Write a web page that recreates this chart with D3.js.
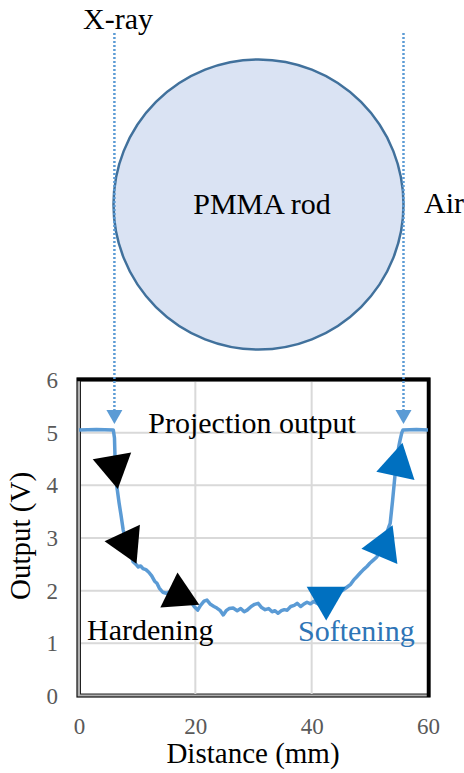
<!DOCTYPE html>
<html>
<head>
<meta charset="utf-8">
<script src="https://cdn.jsdelivr.net/npm/d3@7"></script>
<style>
  html, body { margin: 0; padding: 0; background: #fff; }
  svg { display: block; }
</style>
</head>
<body>
<svg id="chart" width="464" height="773"></svg>
<script>
// projection profile: [distance mm, output V]
var distance = [0, 3, 5.9, 6.1, 6.2, 6.4, 6.6, 6.9, 7.2, 7.6, 8.0, 8.6, 9.3, 9.8, 10.2, 10.6, 11.0, 11.5, 12.0, 12.5,
    13.0, 13.4, 13.8, 14.4, 15.0, 15.6, 16.2, 17.0, 17.8, 18.6, 19.2, 19.8, 20.4, 20.9, 21.5, 22.0, 22.6, 23.2, 23.7, 24.3,
    24.8, 25.3, 25.8, 26.5, 27.2, 27.8, 28.4, 28.9, 29.6, 30.2, 30.8, 31.4, 32.0, 32.6, 33.2, 33.7, 34.2, 34.8, 35.3, 35.8,
    36.4, 37.0, 37.5, 38.1, 38.6, 39.2, 39.8, 40.4, 40.9, 41.6, 42.3, 43.0, 43.7, 44.3, 44.8, 45.5, 46.1, 46.7, 47.2, 47.8,
    48.3, 48.9, 49.5, 50.0, 50.6, 51.2, 51.8, 52.4, 52.9, 53.3, 53.5, 53.9, 54.3, 54.7, 55.0, 55.2, 55.5, 55.7, 58, 60];
var output = [5.05, 5.06, 5.05, 4.9, 4.5, 4.05, 3.9, 3.66, 3.45, 3.15, 2.98, 2.8, 2.55, 2.5, 2.45, 2.47, 2.42, 2.40, 2.35, 2.28,
    2.18, 2.14, 2.05, 1.97, 1.95, 1.98, 1.96, 1.92, 1.88, 1.86, 1.80, 1.70, 1.63, 1.72, 1.80, 1.82, 1.74, 1.70, 1.67, 1.62,
    1.54, 1.62, 1.66, 1.67, 1.62, 1.66, 1.60, 1.63, 1.70, 1.74, 1.76, 1.68, 1.64, 1.66, 1.60, 1.62, 1.57, 1.62, 1.64, 1.63,
    1.70, 1.72, 1.76, 1.70, 1.74, 1.78, 1.75, 1.80, 1.76, 1.72, 1.78, 1.84, 1.88, 1.90, 1.98, 2.02, 2.07, 2.12, 2.20, 2.27,
    2.33, 2.40, 2.46, 2.52, 2.58, 2.64, 2.75, 2.90, 3.09, 3.22, 3.28, 3.70, 4.16, 4.54, 4.75, 4.86, 5.00, 5.05, 5.06, 5.05];

// triangle markers along the curve: [distance, output] and their turn in degrees
var hardeningMarks = [[6.0, 4.35], [8.25, 2.90], [17.2, 1.92]];
var hardeningTurn = [170, -85, -4];
var softeningMarks = [[42.5, 1.86], [52.4, 2.85], [54.8, 4.39]];
var softeningTurn = [180, 23, 12];

// where the X-ray beams graze the rod edge (mm)
var beamEdges = [6.0, 55.7];

var xTicks = [0, 20, 40, 60];
var yTicks = [0, 1, 2, 3, 4, 5, 6];

var serif = "'Liberation Serif', serif";
var svg = d3.select("#chart");
var lineBlue = "#5b9bd5";

var x = d3.scaleLinear().domain([0, 60]).range([79, 428]);
var y = d3.scaleLinear().domain([0, 6]).range([696, 380]);

function label(tx, ty, str, size) {
    return svg.append("text")
        .attr("x", tx).attr("y", ty)
        .style("font-family", serif)
        .style("font-size", size + "px")
        .text(str);
}

// --- rod sketch ---
svg.append("circle")
    .attr("cx", 258.5).attr("cy", 204.5).attr("r", 145)
    .attr("fill", "#dae3f3")
    .attr("stroke", "#41719c")
    .attr("stroke-width", 2.5);

label(262, 214, "PMMA rod", 30).attr("text-anchor", "middle");
label(83, 29, "X-ray", 30);
label(424, 213, "Air", 30);

// --- plot frame and grid ---
svg.append("rect")
    .attr("x", 77).attr("y", 378).attr("width", 353).attr("height", 319)
    .attr("fill", "#b0b0b0").attr("stroke", "#111").attr("stroke-width", 1.2);
svg.append("rect")
    .attr("x", 80.5).attr("y", 381).attr("width", 347).attr("height", 313)
    .attr("fill", "#fff").attr("stroke", "#222").attr("stroke-width", 1);

var grid = svg.append("g").attr("stroke", "#d9d9d9").attr("stroke-width", 2);
grid.selectAll("line.h").data(yTicks.filter(function (d) { return d > 0 && d < 6; }))
    .enter().append("line").attr("class", "h")
    .attr("x1", 81).attr("x2", 427)
    .attr("y1", function (d) { return y(d); })
    .attr("y2", function (d) { return y(d); });
grid.selectAll("line.v").data(xTicks.filter(function (d) { return d > 0 && d < 60; }))
    .enter().append("line").attr("class", "v")
    .attr("y1", 382).attr("y2", 694)
    .attr("x1", function (d) { return x(d); })
    .attr("x2", function (d) { return x(d); });

// heavy black top and right edges
svg.append("path")
    .attr("d", "M77,379.5 H428.5 V697")
    .attr("fill", "none").attr("stroke", "#000").attr("stroke-width", 3.5);

// --- axes ---
var xAxis = svg.append("g").attr("transform", "translate(0,696)")
    .call(d3.axisBottom(x).tickValues(xTicks).tickFormat(d3.format("d")).tickSize(0).tickPadding(22));
var yAxis = svg.append("g").attr("transform", "translate(79,0)")
    .call(d3.axisLeft(y).tickValues(yTicks).tickFormat(d3.format("d")).tickSize(0).tickPadding(21));
[xAxis, yAxis].forEach(function (ax) {
    ax.select(".domain").remove();
    ax.selectAll("text")
        .style("font-family", serif)
        .style("font-size", "23px")
        .attr("fill", "#595959");
});

label(253, 763, "Distance (mm)", 29).attr("text-anchor", "middle");
label(0, 0, "Output (V)", 29)
    .attr("transform", "translate(30,536) rotate(-90)")
    .attr("text-anchor", "middle");

// --- beam guides ---
beamEdges.forEach(function (d) {
    var bx = x(d) + 0.5;
    svg.append("line")
        .attr("x1", bx).attr("x2", bx).attr("y1", 33).attr("y2", 411)
        .attr("stroke", lineBlue).attr("stroke-width", 2.5)
        .attr("stroke-dasharray", "2,2");
    svg.append("path")
        .attr("d", "M" + (bx - 8) + ",410 L" + (bx + 8) + ",410 L" + bx + ",424 Z")
        .attr("fill", lineBlue);
});

// --- projection curve ---
var line = d3.line()
    .x(function (d, i) { return x(distance[i]); })
    .y(function (d) { return y(d); });
svg.append("path")
    .datum(output)
    .attr("d", line)
    .attr("fill", "none")
    .attr("stroke", lineBlue)
    .attr("stroke-width", 3.5)
    .attr("stroke-linejoin", "round");

label(252, 433, "Projection output", 30).attr("text-anchor", "middle");

// --- direction markers ---
var tri = d3.symbol().type(d3.symbolTriangle).size(660);
function drawMarks(points, turns, color) {
    svg.append("g").selectAll("path").data(points).enter().append("path")
        .attr("d", tri)
        .attr("fill", color)
        .attr("transform", function (d, i) {
            return "translate(" + x(d[0]) + "," + y(d[1]) + ") rotate(" + turns[i] + ")";
        });
}
drawMarks(hardeningMarks, hardeningTurn, "#000");
drawMarks(softeningMarks, softeningTurn, "#0070c0");

label(87, 640, "Hardening", 30);
label(298, 641, "Softening", 30).attr("fill", "#2e75b6");
</script>
</body>
</html>
